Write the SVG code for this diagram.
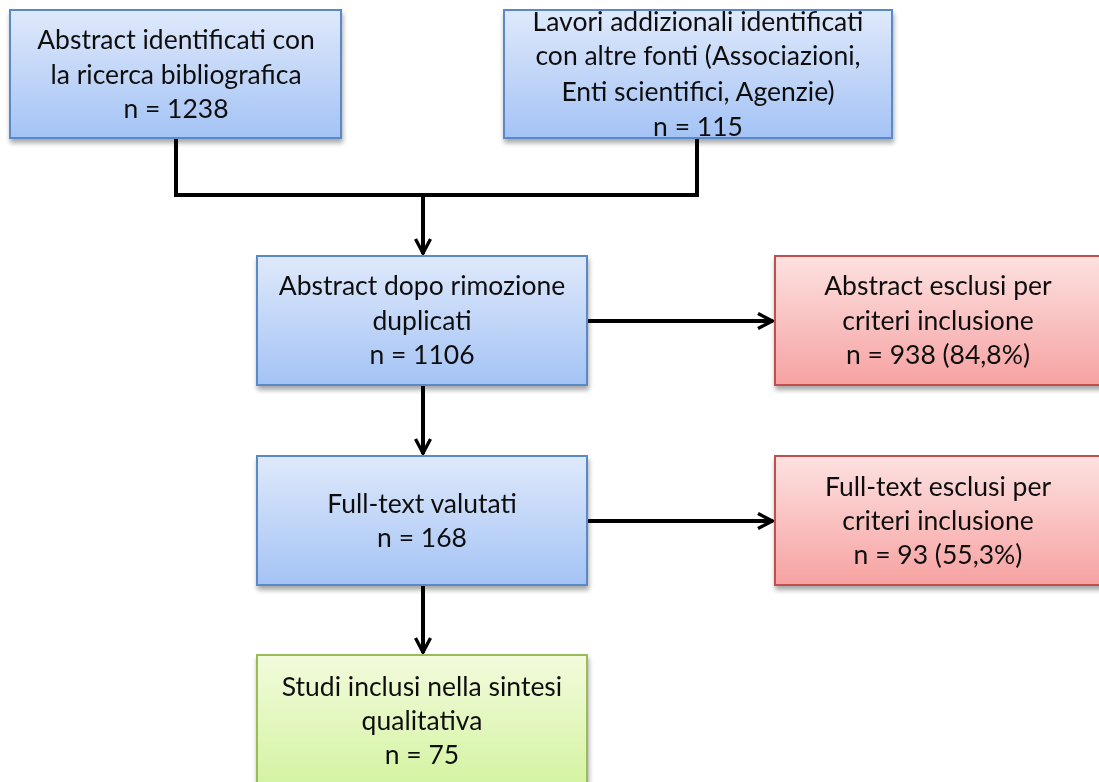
<svg xmlns="http://www.w3.org/2000/svg" width="1099" height="782" viewBox="0 0 1099 782">
  <style>
    .lbl { font-family: "Lato", "Open Sans", "Liberation Sans", sans-serif; font-size: 26.5px; fill: #111; text-anchor: middle; }
    .blue { fill: url(#gBlue); stroke: #5a89c8; stroke-width: 2; }
    .red { fill: url(#gRed); stroke: #c0504d; stroke-width: 2; }
    .green { fill: url(#gGreen); stroke: #9bbb59; stroke-width: 2; }
    .wire { fill: none; stroke: #000; stroke-width: 4; }
  </style>
  <defs>
    <linearGradient id="gBlue" x1="0" y1="0" x2="0" y2="1">
      <stop offset="0" stop-color="#dfe9fb"/>
      <stop offset="1" stop-color="#a4c3f5"/>
    </linearGradient>
    <linearGradient id="gRed" x1="0" y1="0" x2="0" y2="1">
      <stop offset="0" stop-color="#fde1e1"/>
      <stop offset="1" stop-color="#f6a2a1"/>
    </linearGradient>
    <linearGradient id="gGreen" x1="0" y1="0" x2="0" y2="1">
      <stop offset="0" stop-color="#f2fbdc"/>
      <stop offset="1" stop-color="#d3f3a0"/>
    </linearGradient>
    <filter id="shadow" x="-5%" y="-5%" width="115%" height="125%">
      <feGaussianBlur in="SourceAlpha" stdDeviation="2.5"/>
      <feOffset dx="1" dy="4" result="b"/>
      <feComponentTransfer><feFuncA type="linear" slope="0.35"/></feComponentTransfer>
      <feMerge><feMergeNode/><feMergeNode in="SourceGraphic"/></feMerge>
    </filter>
    <marker id="arrow" viewBox="0 0 12 12" refX="11" refY="6" markerWidth="5" markerHeight="5" markerUnits="strokeWidth" orient="auto">
      <path d="M2,1.5 L10.5,6 L2,10.5" fill="none" stroke="#000" stroke-width="2"/>
    </marker>
  </defs>

  <rect width="1099" height="782" fill="#fff"/>

  <g id="connectors">
    <path class="wire" d="M176,138 V195 H697 V138"/>
    <path class="wire" d="M423,195 V254" marker-end="url(#arrow)"/>
    <path class="wire" d="M587,321 H773" marker-end="url(#arrow)"/>
    <path class="wire" d="M423,385 V454" marker-end="url(#arrow)"/>
    <path class="wire" d="M587,521 H773" marker-end="url(#arrow)"/>
    <path class="wire" d="M423,585 V653" marker-end="url(#arrow)"/>
  </g>

  <g id="node-biblio" filter="url(#shadow)">
    <rect class="blue" x="10" y="10" width="331" height="128"/>
    <text class="lbl" x="176" y="49">Abstract identificati con</text>
    <text class="lbl" x="176" y="84">la ricerca bibliografica</text>
    <text class="lbl" x="176" y="118">n = 1238</text>
  </g>

  <g id="node-fonti" filter="url(#shadow)">
    <rect class="blue" x="504" y="10" width="388" height="128"/>
    <text class="lbl" x="698" y="31">Lavori addizionali identificati</text>
    <text class="lbl" x="698" y="65">con altre fonti (Associazioni,</text>
    <text class="lbl" x="698" y="101">Enti scientifici, Agenzie)</text>
    <text class="lbl" x="698" y="136">n = 115</text>
  </g>

  <g id="node-duplicati" filter="url(#shadow)">
    <rect class="blue" x="257" y="256" width="330" height="129"/>
    <text class="lbl" x="422" y="295">Abstract dopo rimozione</text>
    <text class="lbl" x="422" y="330">duplicati</text>
    <text class="lbl" x="422" y="364">n = 1106</text>
  </g>

  <g id="node-esclusi-abstract" filter="url(#shadow)">
    <rect class="red" x="775" y="256" width="330" height="129"/>
    <text class="lbl" x="938" y="295">Abstract esclusi per</text>
    <text class="lbl" x="938" y="330">criteri inclusione</text>
    <text class="lbl" x="938" y="364">n = 938 (84,8%)</text>
  </g>

  <g id="node-fulltext" filter="url(#shadow)">
    <rect class="blue" x="257" y="456" width="330" height="129"/>
    <text class="lbl" x="422" y="513">Full-text valutati</text>
    <text class="lbl" x="422" y="547">n = 168</text>
  </g>

  <g id="node-esclusi-fulltext" filter="url(#shadow)">
    <rect class="red" x="775" y="456" width="330" height="129"/>
    <text class="lbl" x="938" y="496">Full-text esclusi per</text>
    <text class="lbl" x="938" y="530">criteri inclusione</text>
    <text class="lbl" x="938" y="564">n = 93 (55,3%)</text>
  </g>

  <g id="node-inclusi" filter="url(#shadow)">
    <rect class="green" x="257" y="655" width="330" height="135"/>
    <text class="lbl" x="422" y="696">Studi inclusi nella sintesi</text>
    <text class="lbl" x="422" y="730">qualitativa</text>
    <text class="lbl" x="422" y="764">n = 75</text>
  </g>
</svg>
